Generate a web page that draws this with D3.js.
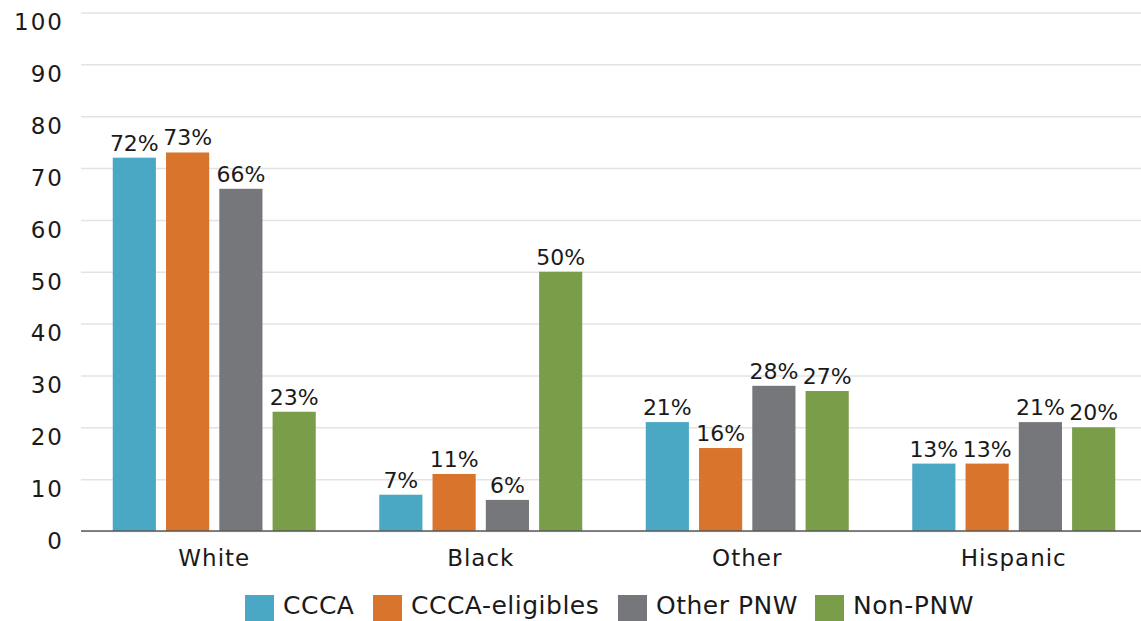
<!DOCTYPE html>
<html>
<head>
<meta charset="utf-8">
<script src="https://cdn.jsdelivr.net/npm/d3@7"></script>
<style>
  html, body { margin: 0; padding: 0; background: #ffffff; }
  svg { display: block; }
</style>
</head>
<body>
<svg id="chart" width="1141" height="621"></svg>
<script>
// Share of each group by race/ethnicity (percent)
const categories = ["White", "Black", "Other", "Hispanic"];
const seriesNames = ["CCCA", "CCCA-eligibles", "Other PNW", "Non-PNW"];
const ccca = [72, 7, 21, 13];
const cccaEligibles = [73, 11, 16, 13];
const otherPNW = [66, 6, 28, 21];
const nonPNW = [23, 50, 27, 20];
const yTicks = [0, 10, 20, 30, 40, 50, 60, 70, 80, 90, 100];
const colors = ["#4aa8c4", "#d8742b", "#76777b", "#7a9d4a"];

const seriesValues = [ccca, cccaEligibles, otherPNW, nonPNW];
const rows = [];
categories.forEach((c, ci) => {
  seriesNames.forEach((s, si) => rows.push({ category: c, series: s, value: seriesValues[si][ci], color: colors[si] }));
});

const svg = d3.select("#chart");
const FONT = "'DejaVu Sans', sans-serif";
const TEXT = "#1a1a1a";

const plotLeft = 81, plotRight = 1141, groupWidth = 203;

const x0 = d3.scaleBand().domain(categories).range([plotLeft, 1147]);
const x1 = d3.scaleBand().domain(seriesNames).range([0, groupWidth]).paddingInner(0.19);
const y = d3.scaleLinear().domain([0, 100]).range([531, 12.5]);
const groupStart = c => x0(c) + (x0.bandwidth() - groupWidth) / 2;

// Gridlines and value axis
const yAxis = svg.append("g")
  .attr("transform", `translate(${plotLeft},0)`)
  .call(d3.axisLeft(y).tickValues(yTicks).tickSize(-(plotRight - plotLeft)).tickPadding(17).tickFormat(d3.format("d")));
yAxis.select(".domain").remove();
yAxis.selectAll(".tick line").attr("stroke", "#e3e3e3").attr("stroke-width", 1.5);
yAxis.selectAll(".tick text")
  .attr("font-family", FONT)
  .attr("font-size", 23)
  .attr("letter-spacing", "2px")
  .attr("fill", TEXT)
  .attr("dy", "0.32em")
  .attr("transform", "translate(0,10)");

// Bars
svg.append("g").selectAll("rect")
  .data(rows)
  .join("rect")
  .attr("x", d => groupStart(d.category) + x1(d.series))
  .attr("y", d => y(d.value))
  .attr("width", x1.bandwidth())
  .attr("height", d => y(0) - y(d.value))
  .attr("fill", d => d.color);

// Value labels
svg.append("g").selectAll("text")
  .data(rows)
  .join("text")
  .attr("x", d => groupStart(d.category) + x1(d.series) + x1.bandwidth() / 2)
  .attr("y", d => y(d.value) - 7)
  .attr("text-anchor", "middle")
  .attr("font-family", FONT)
  .attr("font-size", 22)
  .attr("fill", TEXT)
  .text(d => d.value + "%");

// Baseline
svg.append("line")
  .attr("x1", plotLeft).attr("x2", plotRight)
  .attr("y1", y(0)).attr("y2", y(0))
  .attr("stroke", "#5a5a5a").attr("stroke-width", 1.5);

// Category axis
const xAxis = svg.append("g")
  .attr("transform", `translate(0,${y(0)})`)
  .call(d3.axisBottom(x0).tickSize(0).tickPadding(19));
xAxis.select(".domain").remove();
xAxis.selectAll(".tick text")
  .attr("font-family", FONT)
  .attr("font-size", 23)
  .attr("letter-spacing", "1px")
  .attr("fill", TEXT);

// Legend: swatch + label per series, laid out left to right
const legendStarts = [245, 373, 618, 815];
const legend = svg.append("g");
seriesNames.forEach((name, i) => {
  const item = legend.append("g").attr("transform", `translate(${legendStarts[i]},0)`);
  item.append("rect")
    .attr("x", 0).attr("y", 595)
    .attr("width", 29).attr("height", 26)
    .attr("fill", colors[i]);
  item.append("text")
    .attr("x", 38).attr("y", 614)
    .attr("font-family", FONT)
    .attr("font-size", 25)
    .attr("letter-spacing", "0.5px")
    .attr("fill", TEXT)
    .text(name);
});
</script>
</body>
</html>
